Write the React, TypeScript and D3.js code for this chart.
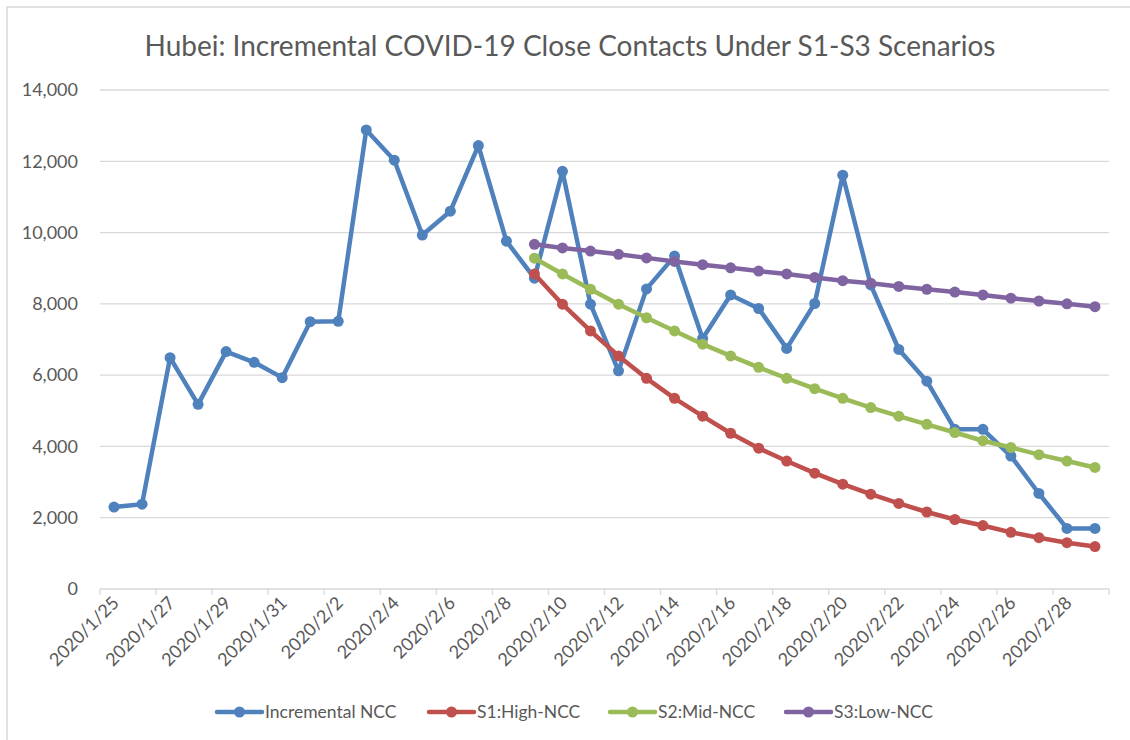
import React from "react";
import * as d3 from "d3";

const dates: string[] = [
  "2020/1/25", "2020/1/26", "2020/1/27", "2020/1/28", "2020/1/29", "2020/1/30", "2020/1/31",
  "2020/2/1", "2020/2/2", "2020/2/3", "2020/2/4", "2020/2/5", "2020/2/6", "2020/2/7",
  "2020/2/8", "2020/2/9", "2020/2/10", "2020/2/11", "2020/2/12", "2020/2/13", "2020/2/14",
  "2020/2/15", "2020/2/16", "2020/2/17", "2020/2/18", "2020/2/19", "2020/2/20", "2020/2/21",
  "2020/2/22", "2020/2/23", "2020/2/24", "2020/2/25", "2020/2/26", "2020/2/27", "2020/2/28",
  "2020/2/29",
];

const incrementalNCC: number[] = [
  2300, 2380, 6490, 5180, 6660, 6360, 5930, 7500, 7510, 12880, 12030, 9930, 10600, 12440,
  9760, 8720, 11720, 7990, 6120, 8420, 9340, 7030, 8250, 7870, 6750, 8010, 11610, 8530,
  6720, 5830, 4480, 4480, 3730, 2680, 1700, 1700,
];

const scenarioStart = "2020/2/9";

const s1High: number[] = [
  8840, 7990, 7240, 6540, 5910, 5350, 4850, 4370, 3950, 3590, 3250, 2940, 2660, 2400, 2160,
  1950, 1780, 1590, 1440, 1300, 1190,
];
const s2Mid: number[] = [
  9280, 8840, 8410, 7990, 7610, 7240, 6870, 6540, 6220, 5910, 5620, 5350, 5090, 4850, 4620,
  4390, 4160, 3970, 3770, 3590, 3410,
];
const s3Low: number[] = [
  9670, 9570, 9480, 9390, 9290, 9190, 9100, 9010, 8920, 8840, 8740, 8650, 8580, 8490, 8410,
  8330, 8250, 8160, 8080, 8000, 7920,
];

const yTicks: number[] = [0, 2000, 4000, 6000, 8000, 10000, 12000, 14000];

const seriesNames: string[] = ["Incremental NCC", "S1:High-NCC", "S2:Mid-NCC", "S3:Low-NCC"];
const seriesColors: string[] = ["#4F81BD", "#C0504D", "#9BBB59", "#8064A2"];

const title = "Hubei: Incremental COVID-19 Close Contacts Under S1-S3 Scenarios";

const W = 1130;
const H = 740;
const FONT = "Lato, 'Open Sans', sans-serif";
const TEXT = "#595959";
const GRID = "#D9D9D9";

export default function App() {
  const x = d3.scaleBand<string>().domain(dates).range([100, 1109]).padding(0);
  const bw = x.bandwidth();
  const cx = (d: string) => (x(d) as number) + bw / 2;
  const y = d3.scaleLinear().domain([0, 14000]).range([589, 90]);

  const startIdx = dates.indexOf(scenarioStart);
  const toPts = (vals: number[], offset: number) =>
    vals.map((v, i) => ({ d: dates[i + offset], v }));

  const series = [
    toPts(incrementalNCC, 0),
    toPts(s1High, startIdx),
    toPts(s2Mid, startIdx),
    toPts(s3Low, startIdx),
  ];

  const line = d3
    .line<{ d: string; v: number }>()
    .x((p) => cx(p.d))
    .y((p) => y(p.v));

  const fmt = d3.format(",");

  const tickBoundaries = dates.filter((_, i) => i % 2 === 0).map((d) => x(d) as number);
  tickBoundaries.push(x.range()[1]);

  const legendX = [217, 429, 610, 786];
  const legendY = 712;

  return (
    <svg
      width={W}
      height={H}
      style={{ position: "absolute", left: 0, top: 0, background: "#fff" }}
      fontFamily={FONT}
    >
      <rect x={0} y={0} width={W} height={H} fill="#fff" />
      <rect x={7} y={7} width={W + 20} height={H + 20} fill="none" stroke={GRID} strokeWidth={1.5} />
      <text x={570} y={56} textAnchor="middle" fontSize={28} fill={TEXT}>
        {title}
      </text>

      {yTicks.map((t) => (
        <g key={t}>
          {t > 0 && (
            <line x1={100} x2={1109} y1={y(t)} y2={y(t)} stroke={GRID} strokeWidth={1.3} />
          )}
          <text x={78} y={y(t)} dy="0.35em" textAnchor="end" fontSize={18} fill={TEXT}>
            {fmt(t)}
          </text>
        </g>
      ))}

      <line x1={100} x2={1109} y1={589} y2={589} stroke={GRID} strokeWidth={1.3} />
      {tickBoundaries.map((tx, i) => (
        <line key={i} x1={tx} x2={tx} y1={589} y2={595} stroke={GRID} strokeWidth={1.3} />
      ))}

      {dates
        .filter((_, i) => i % 2 === 0)
        .map((d) => (
          <text
            key={d}
            transform={`translate(${cx(d) + 6},${604}) rotate(-45)`}
            textAnchor="end"
            fontSize={18}
            fill={TEXT}
          >
            {d}
          </text>
        ))}

      {series.map((pts, si) => (
        <g key={si}>
          <path
            d={line(pts) || ""}
            fill="none"
            stroke={seriesColors[si]}
            strokeWidth={4.5}
            strokeLinejoin="round"
            strokeLinecap="round"
          />
          {pts.map((p, i) => (
            <circle key={i} cx={cx(p.d)} cy={y(p.v)} r={5.5} fill={seriesColors[si]} />
          ))}
        </g>
      ))}

      {seriesNames.map((n, i) => (
        <g key={n}>
          <line
            x1={legendX[i]}
            x2={legendX[i] + 45}
            y1={legendY}
            y2={legendY}
            stroke={seriesColors[i]}
            strokeWidth={4.5}
            strokeLinecap="round"
          />
          <circle cx={legendX[i] + 22.5} cy={legendY} r={5.5} fill={seriesColors[i]} />
          <text x={legendX[i] + 48} y={legendY} dy="0.35em" fontSize={17.5} fill={TEXT}>
            {n}
          </text>
        </g>
      ))}
    </svg>
  );
}
